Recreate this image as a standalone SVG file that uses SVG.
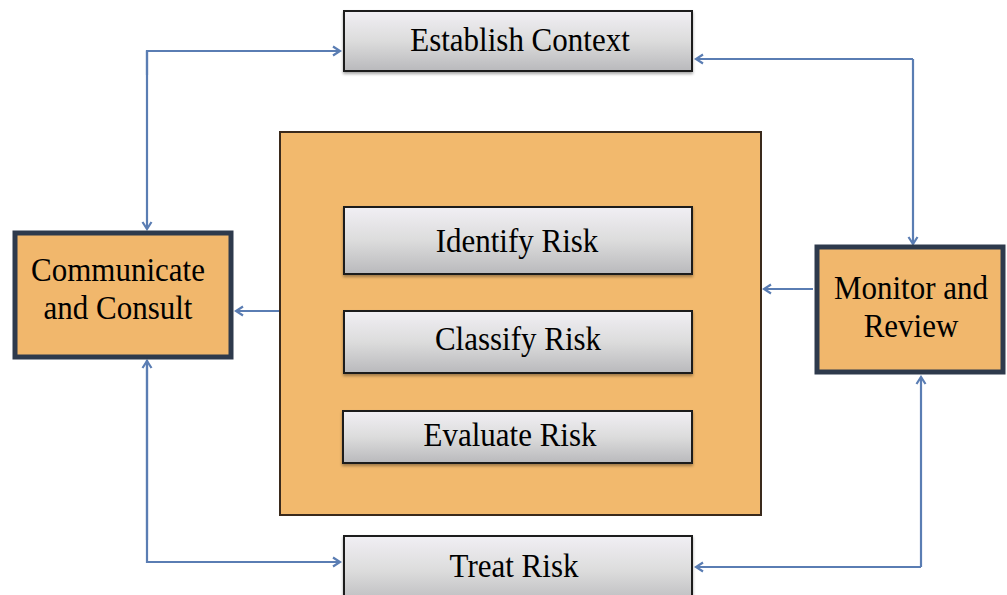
<svg xmlns="http://www.w3.org/2000/svg" width="1007" height="595" viewBox="0 0 1007 595">
<defs>
<linearGradient id="gray" x1="0" y1="0" x2="0" y2="1">
<stop offset="0" stop-color="#f1eff4"/>
<stop offset="0.5" stop-color="#dcdcdc"/>
<stop offset="1" stop-color="#b9b9bc"/>
</linearGradient>
<filter id="sh" x="-5%" y="-10%" width="110%" height="130%">
<feDropShadow dx="0" dy="2" stdDeviation="1.5" flood-color="#000" flood-opacity="0.35"/>
</filter>
<marker id="arr" markerWidth="12" markerHeight="12" refX="10" refY="6" orient="auto" markerUnits="userSpaceOnUse">
<path d="M3,1.5 L10,6 L3,10.5" fill="none" stroke="#5a7db3" stroke-width="2.2"/>
</marker>
</defs>
<style>
.lbl{font-family:"Liberation Serif","Times New Roman",serif;font-size:31px;fill:#000;text-anchor:middle}
.gbox{fill:url(#gray);stroke:#1e1e1e;stroke-width:2;filter:url(#sh)}
.obox{fill:#f1b76c;stroke:#2e3a4c;stroke-width:5}
.conn{fill:none;stroke:#5a7db3;stroke-width:2.2;marker-end:url(#arr)}
</style>
<rect width="1007" height="595" fill="#ffffff"/>
<g id="connectors">
<path class="conn" d="M147,75 L147,51 L340,51"/>
<path class="conn" d="M147,51 L147,229"/>
<path class="conn" d="M147,360 L147,562 L340,562"/>
<path class="conn" d="M147,540 L147,361"/>
<path class="conn" d="M913,59 L696,59"/>
<path class="conn" d="M913,59 L913,244"/>
<path class="conn" d="M921,567 L696,567"/>
<path class="conn" d="M921,567 L921,377"/>
<path class="conn" d="M279,311 L236,311"/>
<path class="conn" d="M813,289 L764,289"/>
</g>
<g id="establish">
<rect class="gbox" x="344" y="11" width="348" height="60"/>
<text class="lbl" transform="translate(520,51) scale(1,1.1)">Establish Context</text>
</g>
<g id="process">
<rect x="280" y="132" width="481" height="383" fill="#f2b96d" stroke="#3a2a1c" stroke-width="2"/>
</g>
<g id="identify">
<rect class="gbox" x="344" y="207" width="348" height="67"/>
<text class="lbl" transform="translate(517,252) scale(1,1.1)">Identify Risk</text>
</g>
<g id="classify">
<rect class="gbox" x="344" y="311" width="348" height="62"/>
<text class="lbl" transform="translate(518,350) scale(1,1.1)">Classify Risk</text>
</g>
<g id="evaluate">
<rect class="gbox" x="343" y="411" width="349" height="52"/>
<text class="lbl" transform="translate(510,446) scale(1,1.1)">Evaluate Risk</text>
</g>
<g id="communicate">
<rect class="obox" x="15" y="233" width="216" height="124"/>
<text class="lbl" transform="translate(118,281) scale(1,1.1)">Communicate</text>
<text class="lbl" transform="translate(118,319) scale(1,1.1)">and Consult</text>
</g>
<g id="monitor">
<rect class="obox" x="817" y="247" width="186" height="125"/>
<text class="lbl" transform="translate(911,299) scale(1,1.1)">Monitor and</text>
<text class="lbl" transform="translate(911,337) scale(1,1.1)">Review</text>
</g>
<g id="treat">
<rect class="gbox" x="344" y="536" width="348" height="70"/>
<text class="lbl" transform="translate(514,577) scale(1,1.1)">Treat Risk</text>
</g>
</svg>
